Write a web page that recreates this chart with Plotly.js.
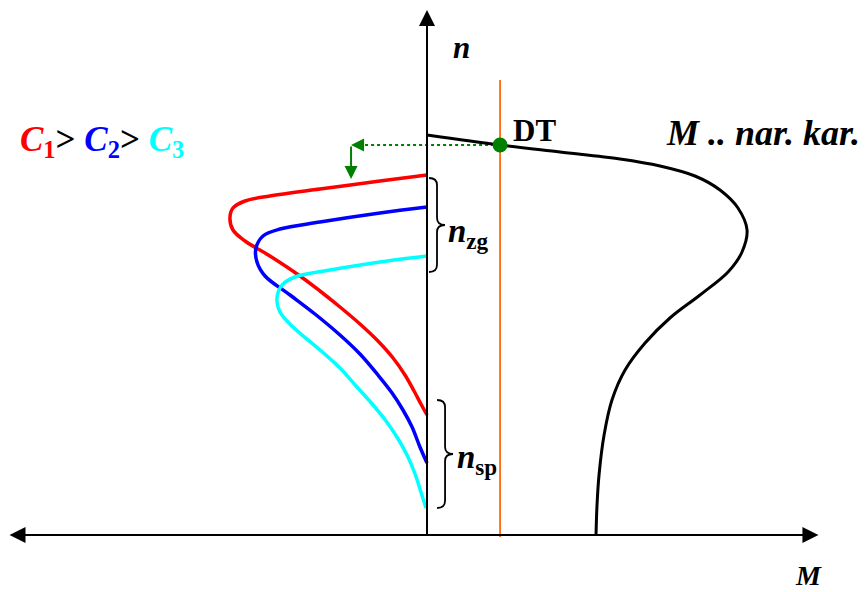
<!DOCTYPE html>
<html>
<head>
<meta charset="utf-8">
<script src="https://cdn.plot.ly/plotly-3.0.1.min.js"></script>
<style>html,body{margin:0;padding:0;background:#fff;}#chart{width:867px;height:592px;}</style>
</head>
<body>
<div id="chart"></div>
<script>
// Motor natural characteristic (M .. nar. kar.): torque M vs speed n (relative units)
const motorM = [0, 0.435, 0.792, 1.149, 1.387, 1.595, 1.744, 1.851, 1.905, 1.875, 1.792, 1.625, 1.446, 1.298, 1.179, 1.101, 1.054, 1.024, 1.012, 1.006];
const motorN = [1.0, 0.975, 0.9575, 0.94, 0.9225, 0.8975, 0.8625, 0.8175, 0.7625, 0.7075, 0.6575, 0.6, 0.5425, 0.48, 0.4125, 0.3375, 0.25, 0.15, 0.075, 0.0];

// Braking curves for C1 > C2 > C3
const c1M = [0, -0.28, -0.637, -0.935, -1.083, -1.155, -1.173, -1.155, -1.083, -0.935, -0.756, -0.637, -0.518, -0.399, -0.292, -0.202, -0.131, -0.077, -0.036, 0];
const c1N = [0.9, 0.885, 0.865, 0.8475, 0.835, 0.8175, 0.7925, 0.7625, 0.735, 0.6975, 0.6475, 0.61, 0.57, 0.5275, 0.485, 0.4425, 0.4, 0.36, 0.3275, 0.3];
const c2M = [0, -0.28, -0.637, -0.875, -0.976, -1.018, -1.012, -0.964, -0.815, -0.667, -0.518, -0.399, -0.292, -0.208, -0.143, -0.089, -0.042, 0];
const c2N = [0.82, 0.805, 0.7825, 0.765, 0.7475, 0.7175, 0.6825, 0.6475, 0.6, 0.5525, 0.5, 0.4525, 0.4, 0.355, 0.3125, 0.27, 0.22, 0.18];
const c3M = [0, -0.28, -0.577, -0.786, -0.863, -0.893, -0.875, -0.804, -0.637, -0.518, -0.417, -0.321, -0.244, -0.179, -0.119, -0.071, -0.036, -0.006];
const c3N = [0.6975, 0.6825, 0.6625, 0.645, 0.625, 0.5925, 0.5575, 0.5225, 0.4625, 0.4175, 0.37, 0.325, 0.285, 0.245, 0.2, 0.1525, 0.1075, 0.0675];

// Operating point DT and the load line
const dtM = 0.435, dtN = 0.975;
const loadM = [0.435, 0.435];
const loadN = [-0.005, 1.1375];
// Green transfer line (dotted, to the left) and arrow down
const transM = [0.435, -0.452];
const transN = [0.975, 0.975];
const transArrowN = 0.89;

// Brace ranges
const zgRange = [0.8925, 0.6575];
const spRange = [0.3375, 0.0675];

const colors = {c1: '#ff0000', c2: '#0000ff', c3: '#00ffff', motor: '#000000', load: '#ff6a10', dt: '#008000'};

const traces = [
  {x: loadM, y: loadN, mode: 'lines', line: {color: colors.load, width: 1.8}, hoverinfo: 'skip'},
  {x: transM, y: transN, mode: 'lines', line: {color: colors.dt, width: 2, dash: 'dot'}, hoverinfo: 'skip'},
  {x: motorM, y: motorN, mode: 'lines', line: {color: colors.motor, width: 3, shape: 'spline', smoothing: 1}},
  {x: c1M, y: c1N, mode: 'lines', line: {color: colors.c1, width: 3.5, shape: 'spline', smoothing: 1}},
  {x: c2M, y: c2N, mode: 'lines', line: {color: colors.c2, width: 3.5, shape: 'spline', smoothing: 1}},
  {x: c3M, y: c3N, mode: 'lines', line: {color: colors.c3, width: 3.5, shape: 'spline', smoothing: 1}},
  {x: [dtM], y: [dtN], mode: 'markers', marker: {color: colors.dt, size: 15}}
];

function brace(m0, w, nTop, nBot, d) {
  const mid = (nTop + nBot) / 2, mx = m0 + w / 2, tip = m0 + w;
  return `M ${m0},${nTop} Q ${mx},${nTop} ${mx},${nTop - d} L ${mx},${mid + d} Q ${mx},${mid} ${tip},${mid} ` +
         `Q ${mx},${mid} ${mx},${mid - d} L ${mx},${nBot + d} Q ${mx},${nBot} ${m0},${nBot}`;
}

const shapes = [
  {type: 'path', xref: 'x', yref: 'y', path: brace(0.012, 0.095, zgRange[0], zgRange[1], 0.018), line: {color: '#000', width: 1.8}},
  {type: 'path', xref: 'x', yref: 'y', path: brace(0.06, 0.095, spRange[0], spRange[1], 0.018), line: {color: '#000', width: 1.8}}
];

const serif = '"Liberation Serif", serif';
const annotations = [
  // horizontal M axis, arrows at both ends
  {x: 2.33, y: 0, ax: -2.494, ay: 0, xref: 'x', yref: 'y', axref: 'x', ayref: 'y', text: '', showarrow: true,
   arrowhead: 2, arrowside: 'end+start', arrowsize: 1.6, arrowwidth: 2, arrowcolor: '#000', standoff: 0, startstandoff: 0},
  // vertical n axis
  {x: 0, y: 1.3125, ax: 0, ay: -0.005, xref: 'x', yref: 'y', axref: 'x', ayref: 'y', text: '', showarrow: true,
   arrowhead: 2, arrowsize: 1.6, arrowwidth: 2, arrowcolor: '#000', standoff: 0},
  // head at left end of dotted green line
  {x: transM[1], y: transN[1], ax: transM[1] + 0.07, ay: transN[1], xref: 'x', yref: 'y', axref: 'x', ayref: 'y', text: '', showarrow: true,
   arrowhead: 2, arrowsize: 1.3, arrowwidth: 2, arrowcolor: colors.dt, standoff: 0},
  // green arrow down
  {x: transM[1], y: transArrowN, ax: transM[1], ay: transN[1], xref: 'x', yref: 'y', axref: 'x', ayref: 'y', text: '', showarrow: true,
   arrowhead: 2, arrowsize: 1.3, arrowwidth: 2, arrowcolor: colors.dt, standoff: 0},
  {x: 0.208, y: 1.22, xref: 'x', yref: 'y', text: '<b><i>n</i></b>', showarrow: false, font: {family: serif, size: 31, color: '#000'}},
  {x: 2.27, y: -0.1, xref: 'x', yref: 'y', text: '<b><i>M</i></b>', showarrow: false, font: {family: serif, size: 28, color: '#000'}},
  {x: 1.41, y: 1.005, xref: 'x', yref: 'y', xanchor: 'left', text: '<b><i>M .. nar. kar.</i></b>', showarrow: false, font: {family: serif, size: 36, color: '#000'}},
  {x: 0.5, y: 1.0125, xref: 'x', yref: 'y', xanchor: 'left', text: '<b>DT</b>', showarrow: false, font: {family: serif, size: 31, color: '#000'}},
  {x: -2.435, y: 0.985, xref: 'x', yref: 'y', xanchor: 'left', showarrow: false, font: {family: serif, size: 35, color: '#000'},
   text: '<b><span style="color:' + colors.c1 + '"><i>C</i><sub>1</sub></span>&gt; <span style="color:' + colors.c2 + '"><i>C</i><sub>2</sub></span>&gt; <span style="color:' + colors.c3 + '"><i>C</i><sub>3</sub></span></b>'},
  {x: 0.115, y: 0.755, xref: 'x', yref: 'y', xanchor: 'left', showarrow: false, font: {family: serif, size: 33, color: '#000'}, text: '<b><i>n</i><sub>zg</sub></b>'},
  {x: 0.168, y: 0.19, xref: 'x', yref: 'y', xanchor: 'left', showarrow: false, font: {family: serif, size: 33, color: '#000'}, text: '<b><i>n</i><sub>sp</sub></b>'}
];

const layout = {
  width: 867, height: 592,
  margin: {l: 0, r: 0, t: 0, b: 0},
  paper_bgcolor: '#fff', plot_bgcolor: '#fff',
  showlegend: false,
  font: {family: serif},
  xaxis: {range: [-427 / 168, 440 / 168], visible: false, fixedrange: true},
  yaxis: {range: [-57 / 400, 535 / 400], visible: false, fixedrange: true},
  shapes: shapes,
  annotations: annotations
};

Plotly.newPlot('chart', traces, layout, {staticPlot: true});
</script>
</body>
</html>
